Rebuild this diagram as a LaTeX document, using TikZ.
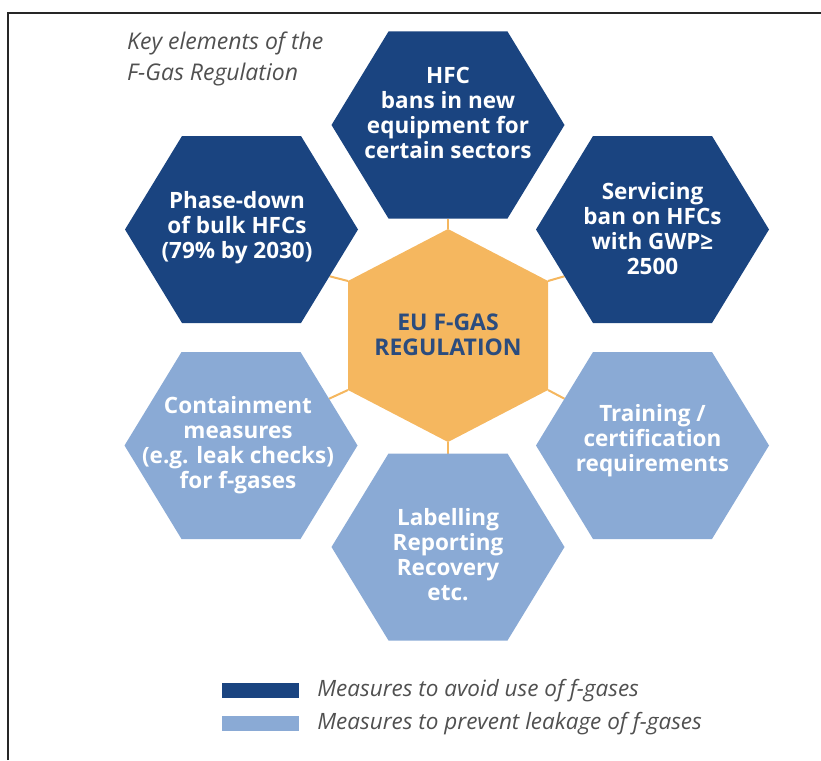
\documentclass[tikz,border=0pt]{standalone}
\usepackage{fontspec}
\setmainfont{Open Sans}
\usepackage{xcolor}
\usetikzlibrary{positioning,calc}
\definecolor{navy}{HTML}{1A4480}
\definecolor{sky}{HTML}{8AAAD5}
\definecolor{amber}{HTML}{F5B75F}
\definecolor{ink}{HTML}{2B4C7E}
\definecolor{note}{HTML}{505050}
\tikzset{
  hexlabel/.style={align=center,font=\fontsize{22.5}{25}\selectfont\bfseries,text=white,inner sep=0pt},
  corelabel/.style={align=center,font=\fontsize{23}{25}\selectfont\bfseries,text=ink,inner sep=0pt},
  link/.style={draw=amber,line width=2pt},
  keybox/.style={rectangle,minimum width=77pt,minimum height=15pt,inner sep=0pt},
  keytext/.style={font=\fontsize{22.5}{26}\selectfont\itshape,text=note,anchor=west,inner sep=0pt},
}
% flat-topped cell round a named centre
\newcommand\hexcell[2]{%
  \fill[#2] (#1) ++(-116.5,0) -- ++(57,-93.5) -- ++(119,0) -- ++(57,93.5)
    -- ++(-57,93.5) -- ++(-119,0) -- cycle;}

\begin{document}
\begin{tikzpicture}[x=1pt,y=-1pt]
  \useasboundingbox (0,0) rectangle (821,760);
  \draw[line width=1.6pt,black!85] (8,760) -- (8,13) -- (821,13);

  % cell centres
  \coordinate (hfc) at (448,125);
  \coordinate (phase) at (241.5,229.5);
  \coordinate (service) at (652.5,229.5);
  \coordinate (contain) at (241,445.5);
  \coordinate (train) at (652.5,445.5);
  \coordinate (label) at (448,547);

  % corners of the core
  \coordinate (k1) at (448,229);
  \coordinate (k2) at (548,281);
  \coordinate (k3) at (548,390);
  \coordinate (k4) at (448,442);
  \coordinate (k5) at (348,390);
  \coordinate (k6) at (348,281);

  % links core -> cells (edge midpoints)
  \coordinate (e-hfc) at ($(hfc)+(0,93.5)$);
  \coordinate (e-phase) at ($(phase)+(88,46.75)$);
  \coordinate (e-service) at ($(service)+(-88,46.75)$);
  \coordinate (e-contain) at ($(contain)+(88,-46.75)$);
  \coordinate (e-train) at ($(train)+(-88,-46.75)$);
  \coordinate (e-label) at ($(label)+(0,-93.5)$);
  \draw[link] (k1) -- (e-hfc);
  \draw[link] (k6) -- (e-phase);
  \draw[link] (k2) -- (e-service);
  \draw[link] (k5) -- (e-contain);
  \draw[link] (k3) -- (e-train);
  \draw[link] (k4) -- (e-label);

  \hexcell{hfc}{navy}
  \hexcell{phase}{navy}
  \hexcell{service}{navy}
  \hexcell{contain}{sky}
  \hexcell{train}{sky}
  \hexcell{label}{sky}
  \fill[amber] (k1) -- (k2) -- (k3) -- (k4) -- (k5) -- (k6) -- cycle;

  \node[hexlabel] (hfc txt) at (448,113) {HFC\\bans in new\\equipment for\\certain sectors};
  \node[hexlabel] (phase txt) at (237,228) {Phase-down\\of bulk HFCs\\(79\% by 2030)};
  \node[hexlabel] (service txt) at (652.5,229) {Servicing\\ban on HFCs\\with GWP≥\\2500};
  \node[hexlabel] (contain txt) at (238,445.5) {Containment\\measures\\(e.g. leak checks)\\for f-gases};
  \node[hexlabel] (train txt) at (652.5,441) {Training /\\certification\\requirements};
  \node[hexlabel] (label txt) at (448,555) {Labelling\\Reporting\\Recovery\\etc.};
  \node[corelabel] (core) at (448,334.5) {EU F-GAS\\REGULATION};

  \node[anchor=base west,align=left,inner sep=0pt,text=note,
    font=\fontsize{23}{30}\selectfont\itshape] (title) at (127,80)
    {Key elements of the\\F-Gas Regulation};

  \node[keybox,fill=navy] (key avoid) at (260.5,690.5) {};
  \node[keybox,fill=sky] (key leak) at (260.5,723.5) {};
  \node[keytext,right=18pt of key avoid] {Measures to avoid use of f-gases};
  \node[keytext,right=18pt of key leak] {Measures to prevent leakage of f-gases};
\end{tikzpicture}
\end{document}
